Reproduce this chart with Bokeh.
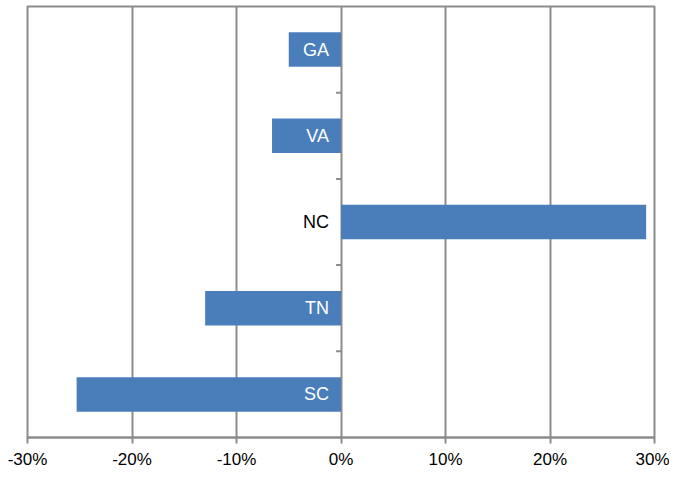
from bokeh.plotting import figure
from bokeh.models import Range1d, FixedTicker, PrintfTickFormatter, ColumnDataSource
from bokeh.core.properties import value
from bokeh.embed import file_html
from bokeh.resources import INLINE

# Data (top to bottom)
states = ["GA", "VA", "NC", "TN", "SC"]
change_pct = [-5.0, -6.6, 29.2, -13.0, -25.3]
x_ticks = [-30, -20, -10, 0, 10, 20, 30]

n = len(states)
ypos = [n - i - 0.5 for i in range(n)]
label_colors = ["white" if v < 0 else "black" for v in change_pct]
src = ColumnDataSource(dict(state=states, val=change_pct, y=ypos, lc=label_colors))

FONT = "Liberation Sans"
GRID = "#8c8c8c"
BLUE = "#4a7ebb"

p = figure(width=669, height=471, output_backend="svg", toolbar_location=None,
           x_range=Range1d(-30, 30), y_range=Range1d(0, n),
           min_border_left=27, min_border_right=15, min_border_top=6, min_border_bottom=0)
p.background_fill_color = "white"
p.border_fill_color = "white"
p.outline_line_color = GRID
p.outline_line_width = 2

# grid
p.ygrid.visible = False
p.xgrid.ticker = FixedTicker(ticks=x_ticks)
p.xgrid.grid_line_color = GRID
p.xgrid.grid_line_width = 2

# axes
p.yaxis.visible = False
ax = p.xaxis[0]
ax.ticker = FixedTicker(ticks=x_ticks)
ax.formatter = PrintfTickFormatter(format="%d%%")
ax.axis_line_color = GRID
ax.axis_line_width = 2
ax.major_tick_line_color = GRID
ax.major_tick_line_width = 2
ax.major_tick_out = 6
ax.major_tick_in = 0
ax.minor_tick_line_color = None
ax.major_label_standoff = 6
ax.major_label_text_font = FONT
ax.major_label_text_font_size = "17px"
ax.major_label_text_color = "black"

# bars
p.hbar(y="y", right="val", left=0, height=0.4, source=src, fill_color=BLUE, line_color=None)

# category tick marks on the zero line (boundaries between categories)
bounds = [float(k) for k in range(1, n)]
p.segment(x0=[0] * len(bounds), x1=[-0.47] * len(bounds), y0=bounds, y1=bounds,
          line_color=GRID, line_width=2)

# category labels at zero line
p.text(x=0, y="y", text="state", source=src, x_offset=-12, text_align="right",
       text_baseline="middle", text_font=value(FONT), text_font_size="18px",
       text_color="lc")

open("out.html", "w").write(file_html(p, INLINE))
